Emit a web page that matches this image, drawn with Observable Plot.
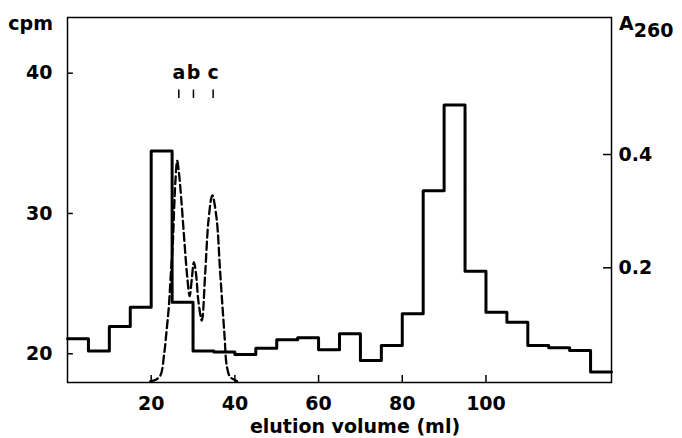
<!DOCTYPE html>
<html><head><meta charset="utf-8">
<script src="https://cdn.jsdelivr.net/npm/d3@7"></script>
<script src="https://cdn.jsdelivr.net/npm/@observablehq/plot@0.6"></script>
<style>body{margin:0;background:#fff;}</style>
</head><body><div id="chart"></div>
<script>
// histogram (cpm) per 5 ml fraction
const binStart = [0,5,10,15,20,25,30,35,40,45,50,55,60,65,70,75,80,85,90,95,100,105,110,115,120,125];
const cpm = [21.07,20.19,21.94,23.32,34.45,23.67,20.19,20.12,19.95,20.4,21.0,21.14,20.28,21.42,19.52,20.59,22.85,31.62,37.74,25.88,22.96,22.25,20.59,20.43,20.23,18.69];
const binWidth = 5;
// A260 dashed profile
const a260Volume = [19.8,21.0,22.2,23.1,23.6,24.2,24.7,25.2,25.5,25.8,26.2,26.6,27.2,28.0,28.6,29.2,29.7,30.2,30.7,31.3,32.1,32.9,33.7,34.6,35.6,36.5,37.5,38.1,38.9,40.5];
const a260 = [0,0.002,0.01,0.048,0.083,0.13,0.19,0.248,0.307,0.354,0.389,0.37,0.32,0.24,0.185,0.15,0.18,0.21,0.19,0.14,0.107,0.19,0.284,0.328,0.289,0.19,0.083,0.025,0.007,0];
// fraction markers
const markerLabels = ["a","b","c"];
const markerVolume = [26.6,30.1,34.8];
// ticks
const xTicks = [20,40,60,80,100];
const cpmTicks = [20,30,40];
const a260Ticks = [0.2,0.4];

const xDomain = [0, 130];
const yDomain = [17.95, 43.97];
const aToCpm = a => 18.05 + a * 40.38;

const stepData = binStart.map((v,i)=>({x:v, y:cpm[i]}))
  .concat([{x: binStart[binStart.length-1] + binWidth, y: cpm[cpm.length-1]}]);
const dashData = a260Volume.map((v,i)=>({x:v, a:a260[i]}));
const markers = markerLabels.map((t,i)=>({t, x: markerVolume[i]}));

const chart = Plot.plot({
  width: 682, height: 438,
  marginLeft: 67, marginRight: 71, marginTop: 17, marginBottom: 56,
  style: {fontFamily: "DejaVu Sans", fontSize: "19px", fontWeight: "bold", background: "#fff", color: "#000"},
  x: {domain: xDomain},
  y: {domain: yDomain},
  marks: [
    Plot.frame({strokeWidth: 1.5}),
    Plot.axisX(xTicks, {tickSize: 0, tickPadding: 14, label: null}),
    Plot.axisY(cpmTicks, {anchor: "left", tickSize: 0, tickPadding: 15, label: null}),
    Plot.axisY(a260Ticks, {anchor: "right", y: aToCpm, tickFormat: d => d.toFixed(1), tickSize: 0, tickPadding: 7, label: null}),
    // inward tick marks
    Plot.ruleX(xTicks, {x: d => d, y1: yDomain[0], y2: yDomain[0] + 0.5, strokeWidth: 1.5}),
    Plot.ruleY(cpmTicks, {y: d => d, x1: xDomain[0], x2: xDomain[0] + 1.4, strokeWidth: 1.5}),
    Plot.ruleY(a260Ticks, {y: aToCpm, x1: xDomain[1] - 1.9, x2: xDomain[1], strokeWidth: 1.5}),
    Plot.line(dashData, {x: "x", y: d => aToCpm(d.a), curve: "catmull-rom", stroke: "#000", strokeWidth: 2.3, strokeDasharray: "8,4"}),
    Plot.line(stepData, {x: "x", y: "y", curve: "step-after", stroke: "#000", strokeWidth: 3}),
    Plot.text(markers, {x: "x", y: 40, text: "t", fontSize: 19, fontWeight: "bold"}),
    Plot.ruleX(markers, {x: "x", y1: 38.2, y2: 38.8, strokeWidth: 1.5})
  ]
});
document.getElementById("chart").appendChild(chart);
const svg = d3.select(chart);
const g = svg.append("g").attr("font-family", "DejaVu Sans").attr("font-size", 19).attr("font-weight", "bold").attr("fill", "#000");
g.append("text").attr("x", 53).attr("y", 30).attr("text-anchor", "end").text("cpm");
const a = g.append("text").attr("x", 619).attr("y", 30).attr("text-anchor", "start").text("A");
a.append("tspan").attr("dy", 7).text("260");
g.append("text").attr("x", 355).attr("y", 433).attr("text-anchor", "middle").text("elution volume (ml)");
</script>
</body></html>
